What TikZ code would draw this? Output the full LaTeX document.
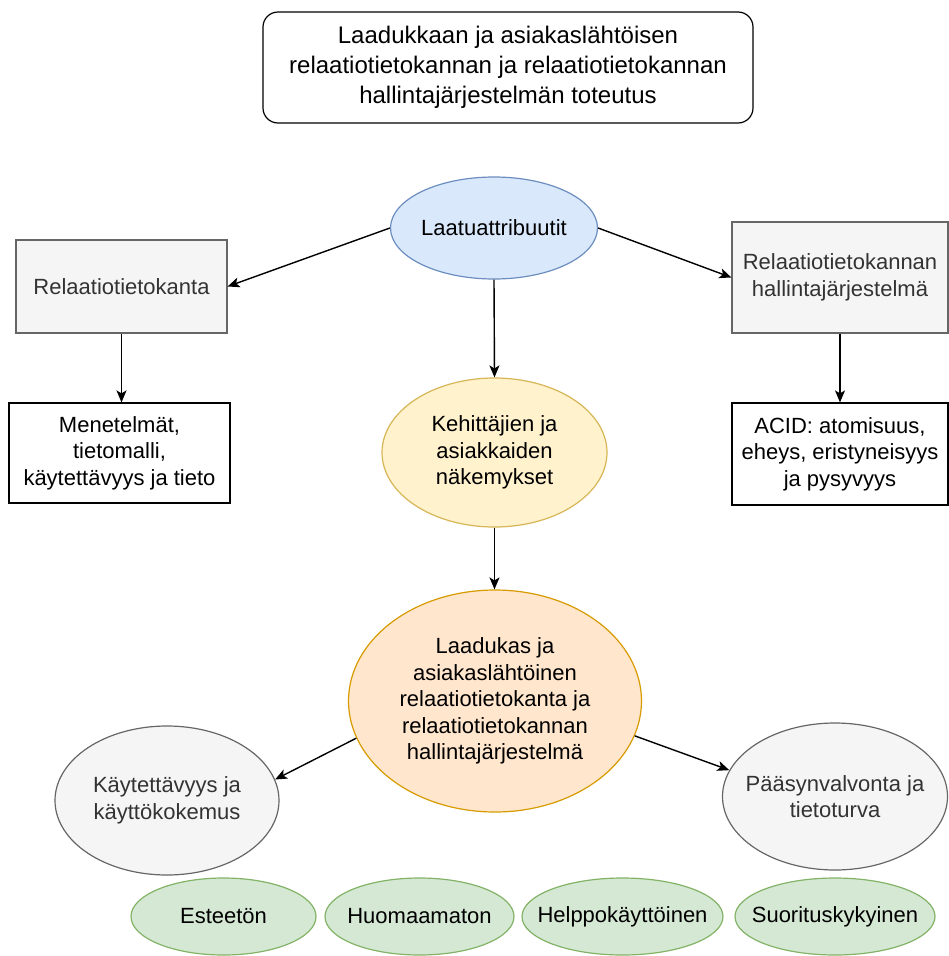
\documentclass[tikz,border=0pt]{standalone}
\usepackage{fontspec}
\setmainfont{Liberation Sans}
\usepackage{tikz}
\usetikzlibrary{arrows.meta, shapes.geometric}

\definecolor{blueFill}{HTML}{DAE8FC}
\definecolor{blueLine}{HTML}{6C8EBF}
\definecolor{yellowFill}{HTML}{FFF2CC}
\definecolor{yellowLine}{HTML}{D6B656}
\definecolor{orangeFill}{HTML}{FFE6CC}
\definecolor{orangeLine}{HTML}{D79B00}
\definecolor{grayFill}{HTML}{F5F5F5}
\definecolor{grayLine}{HTML}{666666}
\definecolor{grayText}{HTML}{333333}
\definecolor{greenFill}{HTML}{D5E8D4}
\definecolor{greenLine}{HTML}{82B366}

\tikzset{
    txt/.style={font=\fontsize{22}{26.5}\selectfont, align=center, inner sep=0pt},
    graybox/.style={txt, shape=rectangle, draw=grayLine, fill=grayFill, text=grayText, line width=1.2pt},
    whitebox/.style={txt, shape=rectangle, draw=black, fill=white, line width=1.2pt},
    oval/.style={shape=ellipse, inner sep=0pt, line width=1.2pt},
    grayoval/.style={oval, draw=grayLine, fill=grayFill},
    greenoval/.style={oval, draw=greenLine, fill=greenFill, minimum height=77pt},
    arr/.style={line width=1.4pt, -{Stealth[length=12pt, width=10pt, inset=3pt]}}}

\begin{document}
\begin{tikzpicture}[x=1pt, y=-1pt]

        \useasboundingbox (0,0) rectangle (949,956);

        \node[txt, shape=rectangle, draw=black, line width=1.2pt, rounded corners=15pt, minimum width=490pt, minimum height=111pt, font=\fontsize{24}{30}\selectfont] (T) at (508,67.5) {Laadukkaan ja asiakaslähtöisen\\relaatiotietokannan ja relaatiotietokannan\\hallintajärjestelmän toteutus};

        \node[oval, draw=blueLine, fill=blueFill, minimum width=207pt, minimum height=102pt, label={[txt]center:Laatuattribuutit}] (L) at (494,228) {};
        \node[graybox, minimum width=211pt, minimum height=93pt] (R) at (121.5,286.5) {Relaatiotietokanta};
        \node[graybox, minimum width=216pt, minimum height=111pt] (H) at (840,277.5) {Relaatiotietokannan\\hallintajärjestelmä};
        \node[whitebox, minimum width=221pt, minimum height=100pt] (M) at (119.5,453) {Menetelmät,\\tietomalli,\\käytettävyys ja tieto};
        \node[whitebox, minimum width=216pt, minimum height=102pt] (A) at (840,454) {ACID: atomisuus,\\eheys, eristyneisyys\\ja pysyvyys};
        \node[oval, draw=yellowLine, fill=yellowFill, minimum width=225pt, minimum height=149pt, label={[txt]center:Kehittäjien ja\\asiakkaiden\\näkemykset}] (K) at (494.5,452.5) {};
        \node[oval, draw=orangeLine, fill=orangeFill, minimum width=293pt, minimum height=222pt, label={[txt]center:Laadukas ja\\asiakaslähtöinen\\relaatiotietokanta ja\\relaatiotietokannan\\hallintajärjestelmä}] (Q) at (495,701) {};
        \node[grayoval, minimum width=224pt, minimum height=149pt, label={[txt, text=grayText]center:Käytettävyys ja\\käyttökokemus}] (U) at (167,800.5) {};
        \node[grayoval, minimum width=225pt, minimum height=147pt, label={[txt, text=grayText]center:Pääsynvalvonta ja\\tietoturva}] (P) at (835,796.5) {};

        \node[greenoval, minimum width=185pt, label={[txt]center:Esteetön}] (G1) at (223.5,916.5) {};
        \node[greenoval, minimum width=189pt, label={[txt]center:Huomaamaton}] (G2) at (419.5,916.5) {};
        \node[greenoval, minimum width=201pt, label={[txt]center:Helppokäyttöinen}] (G3) at (622.5,916.5) {};
        \node[greenoval, minimum width=200pt, label={[txt]center:Suorituskykyinen}] (G4) at (835,916.5) {};

        \draw[arr] (L.west) -- (R.east);
        \draw[arr] (L.east) -- (H.west);
        \draw[arr] (L.south) -- (K.north);
        \draw[arr] (R.south) -- (R.south |- M.north);
        \draw[arr] (H.south) -- (H.south |- A.north);
        \draw[arr] (K.south) -- (K.south |- Q.north);
        \draw[arr] (Q.195) -- (U.11);
        \draw[arr] (Q.346) -- (P.166);

\end{tikzpicture}
\end{document}
